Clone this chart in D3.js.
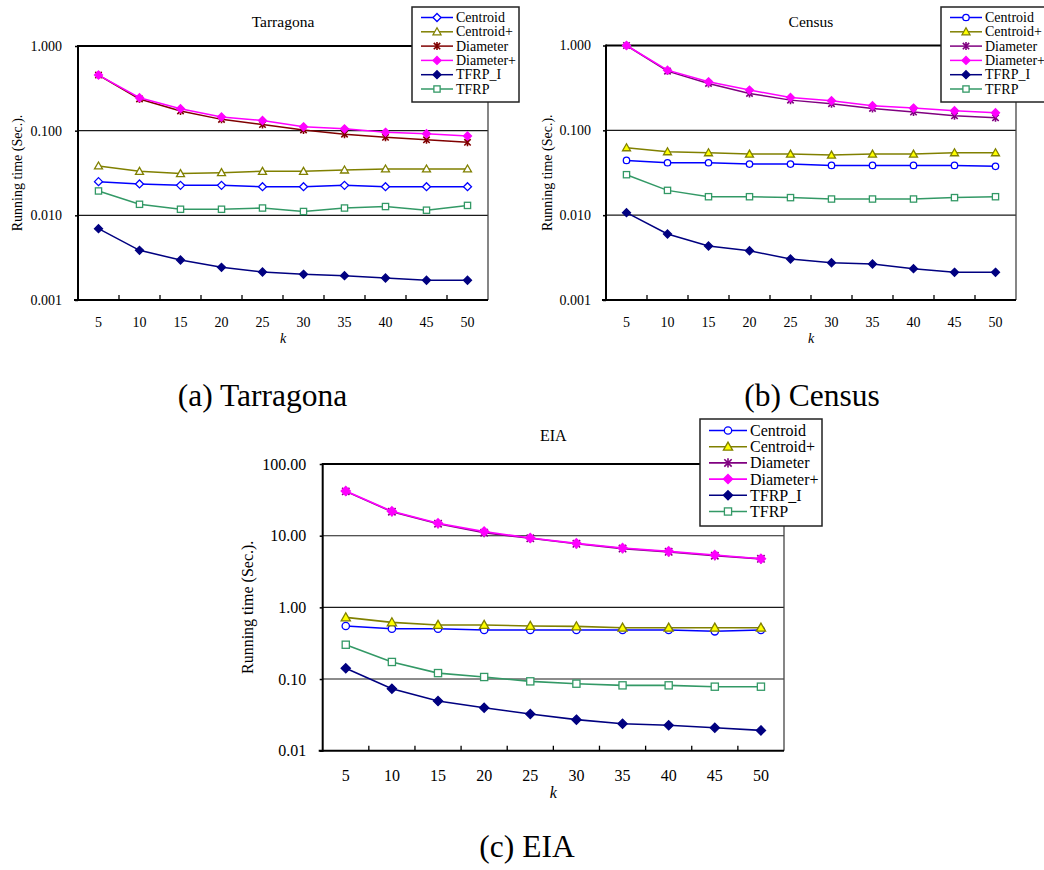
<!DOCTYPE html>
<html>
<head>
<meta charset="utf-8">
<script src="https://cdn.jsdelivr.net/npm/d3@7"></script>
<style>
  html, body { margin: 0; padding: 0; background: #fff; }
  svg { display: block; }
  svg text { font-family: 'Liberation Serif', 'Times New Roman', Times, serif !important; }
</style>
</head>
<body>
<svg id="chart" width="1044" height="870"></svg>
<script>
// ---- data ---------------------------------------------------------------
const kValues = [5, 10, 15, 20, 25, 30, 35, 40, 45, 50];
const seriesNames = ["Centroid", "Centroid+", "Diameter", "Diameter+", "TFRP_I", "TFRP"];

// Tarragona running times (sec.)
const tarCentroid     = [0.0250, 0.0235, 0.0226, 0.0226, 0.0218, 0.0218, 0.0226, 0.0218, 0.0218, 0.0218];
const tarCentroidPlus = [0.0383, 0.0331, 0.0311, 0.0319, 0.0331, 0.0331, 0.0343, 0.0353, 0.0353, 0.0353];
const tarDiameter     = [0.454, 0.237, 0.171, 0.136, 0.118, 0.102, 0.091, 0.0834, 0.078, 0.0728];
const tarDiameterPlus = [0.454, 0.245, 0.182, 0.145, 0.132, 0.111, 0.105, 0.0956, 0.092, 0.0865];
const tarTFRPI        = [0.00696, 0.00386, 0.00297, 0.00243, 0.00214, 0.00201, 0.00194, 0.00182, 0.00171, 0.00171];
const tarTFRP         = [0.0194, 0.0135, 0.0118, 0.0118, 0.0122, 0.0111, 0.0122, 0.0127, 0.0115, 0.0131];

// Census running times (sec.)
const cenCentroid     = [0.0442, 0.0415, 0.0415, 0.0400, 0.0400, 0.0386, 0.0386, 0.0386, 0.0386, 0.0376];
const cenCentroidPlus = [0.0623, 0.0559, 0.0544, 0.0525, 0.0525, 0.0511, 0.0525, 0.0525, 0.0544, 0.0544];
const cenDiameter     = [1.0, 0.499, 0.357, 0.272, 0.227, 0.206, 0.181, 0.164, 0.1485, 0.1406];
const cenDiameterPlus = [1.0, 0.512, 0.373, 0.298, 0.244, 0.223, 0.195, 0.183, 0.170, 0.161];
const cenTFRPI        = [0.0107, 0.0060, 0.00433, 0.00381, 0.00304, 0.00275, 0.00266, 0.00234, 0.00212, 0.00212];
const cenTFRP         = [0.0300, 0.0196, 0.0165, 0.0165, 0.0161, 0.0155, 0.0155, 0.0155, 0.0161, 0.0165];

// EIA running times (sec.)
const eiaCentroid     = [0.549, 0.504, 0.504, 0.483, 0.483, 0.483, 0.483, 0.483, 0.463, 0.483];
const eiaCentroidPlus = [0.725, 0.618, 0.567, 0.567, 0.549, 0.543, 0.520, 0.520, 0.520, 0.520];
const eiaDiameter     = [41.5, 21.6, 14.7, 11.0, 9.2, 7.7, 6.6, 5.95, 5.25, 4.75];
const eiaDiameterPlus = [42.0, 21.9, 14.9, 11.4, 9.28, 7.81, 6.73, 6.04, 5.37, 4.77];
const eiaTFRPI        = [0.141, 0.0733, 0.0493, 0.0398, 0.0325, 0.0271, 0.0238, 0.0226, 0.0209, 0.0192];
const eiaTFRP         = [0.301, 0.173, 0.121, 0.1067, 0.0928, 0.0861, 0.0816, 0.0816, 0.0782, 0.0782];

// axis ticks
const smallTickValues = [0.001, 0.01, 0.1, 1];
const smallTickLabels = ["0.001", "0.010", "0.100", "1.000"];
const eiaTickValues   = [0.01, 0.1, 1, 10, 100];
const eiaTickLabels   = ["0.01", "0.10", "1.00", "10.00", "100.00"];

const panelTitles = ["Tarragona", "Census", "EIA"];
const captions = ["(a) Tarragona", "(b) Census", "(c) EIA"];
const yAxisTitle = "Running time (Sec.).";
const xAxisTitle = "k";

// ---- drawing ------------------------------------------------------------
const SERIF = "'Liberation Serif', 'Times New Roman', Times, serif";
const svg = d3.select("#chart").attr("font-family", SERIF);
svg.append("rect").attr("width", 1044).attr("height", 870).attr("fill", "#fff");

// draws a single marker centred at the origin of g
function drawMarker(g, st, s) {
  const t = st.marker;
  if (t === "diamond") {
    g.append("path").attr("d", `M0,${-s}L${s},0L0,${s}L${-s},0Z`)
      .attr("fill", st.fill).attr("stroke", st.color).attr("stroke-width", 1.3);
  } else if (t === "circle") {
    g.append("circle").attr("r", s * 0.8)
      .attr("fill", st.fill).attr("stroke", st.color).attr("stroke-width", 1.3);
  } else if (t === "triangle") {
    g.append("path").attr("d", `M0,${-s}L${s},${s * 0.75}L${-s},${s * 0.75}Z`)
      .attr("fill", st.fill).attr("stroke", st.color).attr("stroke-width", 1.3);
  } else if (t === "square") {
    const h = s * 0.78;
    g.append("rect").attr("x", -h).attr("y", -h).attr("width", 2 * h).attr("height", 2 * h)
      .attr("fill", st.fill).attr("stroke", st.color).attr("stroke-width", 1.3);
  } else if (t === "asterisk") {
    const d = s * 0.8;
    g.append("path")
      .attr("d", `M${-d},${-d}L${d},${d}M${-d},${d}L${d},${-d}M0,${-s}L0,${s}`)
      .attr("fill", "none").attr("stroke", st.color).attr("stroke-width", 1.6);
  }
}

function drawPanel(p) {
  const g = svg.append("g");
  const x = d3.scaleBand().domain(kValues).range([p.left, p.right]);
  const y = d3.scaleLog().domain(p.yDomain).range([p.bottom, p.top]);

  // gridlines on interior decades
  g.append("g").selectAll("line")
    .data(p.tickValues.slice(1, -1))
    .join("line")
    .attr("x1", p.left).attr("x2", p.right)
    .attr("y1", d => y(d)).attr("y2", d => y(d))
    .attr("stroke", "#1a1a1a").attr("stroke-width", 1.1);

  // frame
  g.append("line").attr("x1", p.right).attr("x2", p.right).attr("y1", p.top).attr("y2", p.bottom)
    .attr("stroke", "#444").attr("stroke-width", 1.3);
  g.append("line").attr("x1", p.left).attr("x2", p.right).attr("y1", p.top).attr("y2", p.top)
    .attr("stroke", "#000").attr("stroke-width", 2);

  // y axis
  const yAxis = d3.axisLeft(y)
    .tickValues(p.tickValues)
    .tickFormat((d, i) => p.tickLabels[i])
    .tickSizeInner(3).tickSizeOuter(0).tickPadding(p.yPad);
  const ya = g.append("g").attr("transform", `translate(${p.left},0)`).call(yAxis)
    .attr("font-family", SERIF).attr("font-size", p.font);
  ya.select(".domain").remove();
  ya.selectAll(".tick line").attr("stroke", "#000").attr("stroke-width", 1.5);
  ya.selectAll(".tick text").attr("fill", "#000");
  g.append("line").attr("x1", p.left).attr("x2", p.left).attr("y1", p.top - 1).attr("y2", p.bottom + 1)
    .attr("stroke", "#000").attr("stroke-width", 2);

  // x axis (category labels)
  const xAxis = d3.axisBottom(x).tickSize(0).tickPadding(p.xPad);
  const xa = g.append("g").attr("transform", `translate(0,${p.bottom})`).call(xAxis)
    .attr("font-family", SERIF).attr("font-size", p.font);
  xa.select(".domain").remove();
  xa.selectAll(".tick text").attr("fill", "#000");
  // inward tick marks at category boundaries
  g.append("g").selectAll("line")
    .data(kValues.slice(1))
    .join("line")
    .attr("x1", d => x(d)).attr("x2", d => x(d))
    .attr("y1", p.bottom).attr("y2", p.bottom - 5)
    .attr("stroke", "#000").attr("stroke-width", 1.3);
  g.append("line").attr("x1", p.left - 4).attr("x2", p.right).attr("y1", p.bottom).attr("y2", p.bottom)
    .attr("stroke", "#000").attr("stroke-width", 2);

  // series
  const line = d3.line()
    .x((d, i) => x(kValues[i]) + x.bandwidth() / 2)
    .y(d => y(d));
  p.series.forEach((vals, si) => {
    const st = p.styles[si];
    const sg = g.append("g");
    sg.append("path").datum(vals).attr("d", line)
      .attr("fill", "none").attr("stroke", st.color).attr("stroke-width", p.lineWidth);
    vals.forEach((v, i) => {
      const mg = sg.append("g")
        .attr("transform", `translate(${x(kValues[i]) + x.bandwidth() / 2},${y(v)})`);
      drawMarker(mg, st, p.markerSize);
    });
  });

  // titles
  g.append("text").attr("x", (p.left + p.right) / 2).attr("y", p.titleY)
    .attr("text-anchor", "middle").attr("font-size", p.titleFont).text(p.title);
  g.append("text")
    .attr("transform", `translate(${p.yTitleX},${(p.top + p.bottom) / 2}) rotate(-90)`)
    .attr("text-anchor", "middle").attr("dominant-baseline", "central")
    .attr("font-size", p.font).text(yAxisTitle);
  g.append("text").attr("x", (p.left + p.right) / 2).attr("y", p.kY)
    .attr("text-anchor", "middle").attr("font-style", "italic")
    .attr("font-size", p.font).text(xAxisTitle);

  // legend
  const L = p.legend;
  const lg = svg.append("g");
  lg.append("rect").attr("x", L.x).attr("y", L.y).attr("width", L.w).attr("height", L.h)
    .attr("fill", "#fff").attr("stroke", "#222").attr("stroke-width", 1.5);
  seriesNames.forEach((name, i) => {
    const st = p.styles[i];
    const ry = L.y + L.first + i * L.step;
    lg.append("line").attr("x1", L.x + L.lx1).attr("x2", L.x + L.lx2).attr("y1", ry).attr("y2", ry)
      .attr("stroke", st.color).attr("stroke-width", p.lineWidth);
    const mg = lg.append("g").attr("transform", `translate(${L.x + (L.lx1 + L.lx2) / 2},${ry})`);
    drawMarker(mg, st, L.ms);
    lg.append("text").attr("x", L.x + L.tx).attr("y", ry)
      .attr("dominant-baseline", "central").attr("font-size", L.font).text(name);
  });
}

const stylesA = [
  { color: "#0000ff", marker: "diamond",  fill: "#fff" },
  { color: "#808000", marker: "triangle", fill: "#fff" },
  { color: "#800000", marker: "asterisk", fill: "none" },
  { color: "#ff00ff", marker: "diamond",  fill: "#ff00ff" },
  { color: "#000080", marker: "diamond",  fill: "#000080" },
  { color: "#339966", marker: "square",   fill: "#fff" }
];
const stylesBC = [
  { color: "#0000ff", marker: "circle",   fill: "#fff" },
  { color: "#808000", marker: "triangle", fill: "#ffff00" },
  { color: "#800080", marker: "asterisk", fill: "none" },
  { color: "#ff00ff", marker: "diamond",  fill: "#ff00ff" },
  { color: "#000080", marker: "diamond",  fill: "#000080" },
  { color: "#339966", marker: "square",   fill: "#fff" }
];

const legendSmall = { w: 107, h: 95, first: 10.5, step: 14.3, lx1: 9, lx2: 41, tx: 44, ms: 4, font: 14 };

drawPanel({
  title: panelTitles[0], left: 78, right: 488, top: 46, bottom: 300,
  yDomain: [0.001, 1], tickValues: smallTickValues, tickLabels: smallTickLabels,
  series: [tarCentroid, tarCentroidPlus, tarDiameter, tarDiameterPlus, tarTFRPI, tarTFRP],
  styles: stylesA, font: 14, titleFont: 15.5, titleY: 27, yPad: 13, xPad: 17, kY: 343,
  yTitleX: 17, lineWidth: 1.5, markerSize: 4,
  legend: Object.assign({ x: 412, y: 7 }, legendSmall)
});

drawPanel({
  title: panelTitles[1], left: 606, right: 1016, top: 45.5, bottom: 300,
  yDomain: [0.001, 1], tickValues: smallTickValues, tickLabels: smallTickLabels,
  series: [cenCentroid, cenCentroidPlus, cenDiameter, cenDiameterPlus, cenTFRPI, cenTFRP],
  styles: stylesBC, font: 14, titleFont: 15.5, titleY: 27, yPad: 12, xPad: 17, kY: 343,
  yTitleX: 547, lineWidth: 1.5, markerSize: 4,
  legend: Object.assign({ x: 941, y: 7 }, legendSmall)
});

drawPanel({
  title: panelTitles[2], left: 322.7, right: 784, top: 464, bottom: 750.7,
  yDomain: [0.01, 100], tickValues: eiaTickValues, tickLabels: eiaTickLabels,
  series: [eiaCentroid, eiaCentroidPlus, eiaDiameter, eiaDiameterPlus, eiaTFRPI, eiaTFRP],
  styles: stylesBC, font: 16, titleFont: 16, titleY: 441, yPad: 13.5, xPad: 18.5, kY: 798,
  yTitleX: 247, lineWidth: 1.6, markerSize: 4.6,
  legend: { x: 700, y: 419, w: 122, h: 107, first: 11.5, step: 16.2, lx1: 9, lx2: 47, tx: 50, ms: 4.6, font: 16 }
});

// sub-figure captions
const capPos = [[262.5, 406], [812, 406], [527, 856.5]];
captions.forEach((c, i) => {
  svg.append("text").attr("x", capPos[i][0]).attr("y", capPos[i][1])
    .attr("text-anchor", "middle").attr("font-size", 31.5).text(c);
});
</script>
</body>
</html>
